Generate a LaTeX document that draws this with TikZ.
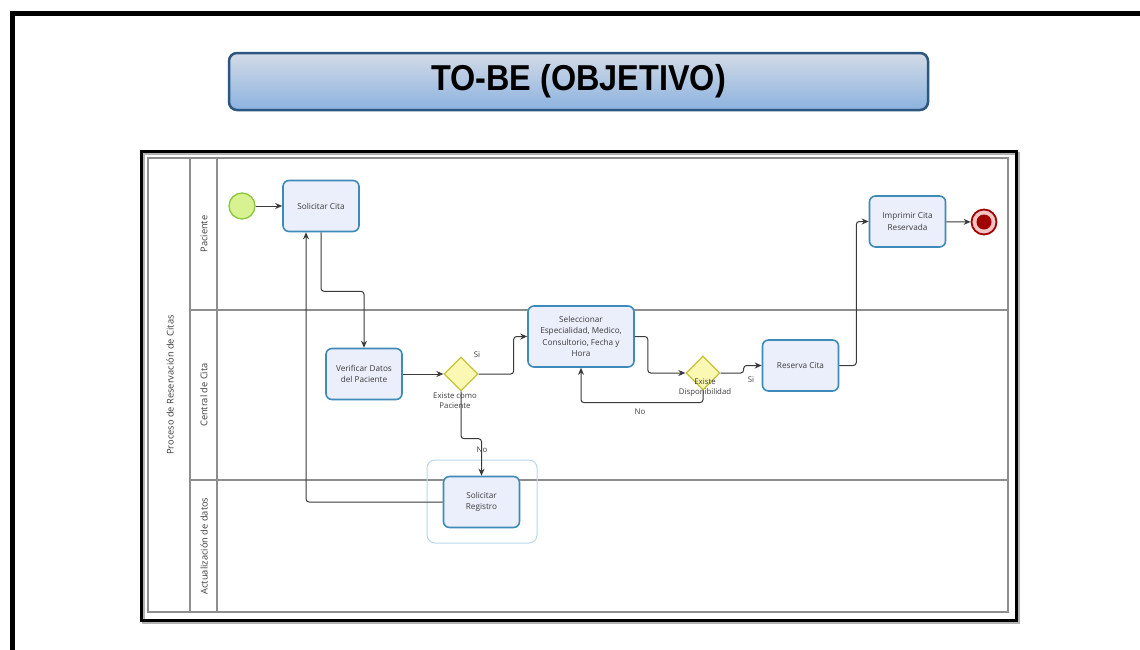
\documentclass[tikz,border=0pt]{standalone}
\usepackage{graphicx}
\usepackage{fontspec}
\setmainfont{Open Sans}
\newfontfamily\titlefont{Liberation Sans}
\usepackage{tikz}
\usetikzlibrary{arrows.meta,shapes.geometric,positioning}

\definecolor{taskfill}{HTML}{EBEEFB}
\definecolor{taskline}{HTML}{3E8AB8}
\definecolor{gwfill}{HTML}{FBF8B4}
\definecolor{gwline}{HTML}{C5C23A}
\definecolor{startfill}{HTML}{D8F291}
\definecolor{startline}{HTML}{8CC63E}
\definecolor{endred}{HTML}{A00000}
\definecolor{endpink}{HTML}{F2C4C4}
\definecolor{laneline}{HTML}{8E8E8E}
\definecolor{flowline}{HTML}{3A3A3A}
\definecolor{labeltext}{HTML}{3C3C3C}
\definecolor{titletop}{HTML}{D3DBE6}
\definecolor{titlebottom}{HTML}{8CB2DF}
\definecolor{titleline}{HTML}{2B5781}
\definecolor{halo}{HTML}{B8D8EA}

\tikzset{
  task/.style={draw=taskline, fill=taskfill, line width=1.6pt, rounded corners=6pt,
    minimum width=76pt, minimum height=51pt, align=center, text=labeltext,
    font=\fontsize{8.2}{11.5}\selectfont},
  gateway/.style={diamond, draw=gwline, fill=gwfill, line width=1.3pt,
    minimum size=34pt, inner sep=0pt},
  startevent/.style={circle, draw=startline, fill=startfill, line width=1.3pt,
    minimum size=26pt, inner sep=0pt},
  endevent/.style={circle, draw=endred, fill=endpink, line width=1.8pt,
    minimum size=25pt, inner sep=0pt,
    path picture={\fill[endred] (path picture bounding box.center) circle (7.5pt);}},
  flow/.style={draw=flowline, line width=1pt, rounded corners=3pt,
    -{Stealth[length=7pt,width=6pt]}},
  lane/.style={draw=laneline, line width=1.2pt},
  lanelabel/.style={rotate=90, text=labeltext, font=\fontsize{9.3}{11}\selectfont},
  flowlabel/.style={text=labeltext, align=center, inner sep=0pt,
    font=\fontsize{7.8}{10}\selectfont},
  titlebox/.style={draw=titleline, line width=2.5pt, rounded corners=8pt,
    top color=titletop, bottom color=titlebottom,
    minimum width=699pt, minimum height=57pt,
    font=\titlefont\bfseries\fontsize{36}{36}\selectfont}
}

\begin{document}
\begin{tikzpicture}[x=1pt, y=-1pt]
    \useasboundingbox (0,0) rectangle (1140,649);
    \fill[white] (0,0) rectangle (1140,649);
    \draw[line width=5pt] (12,13) rectangle (1200,720);

    \node[titlebox] (title) at (578.5,81.5) {\scalebox{0.9}[1]{TO-BE (OBJETIVO)}};

    \draw[black!30, line width=3pt] (143,153) rectangle (1018,622);
    \draw[line width=3pt] (141,151) rectangle (1016,620);
    \draw[lane] (148,158) rectangle (1008,612);
    \draw[lane] (190,158) -- (190,612);
    \draw[lane] (217,158) -- (217,612);
    \draw[lane] (190,310) -- (1008,310);
    \draw[lane] (190,480) -- (1008,480);

    \node[lanelabel] (pool) at (170,385) {Proceso de Reservación de Citas};
    \node[lanelabel] (paciente) at (204,234) {Paciente};
    \node[lanelabel] (central) at (204,395) {Central de Cita};
    \node[lanelabel] (actualizacion) at (204,546) {Actualización de datos};

    \draw[halo, line width=1pt, rounded corners=8pt] (427,460) rectangle (537,543);

    \node[startevent] (start) at (242,206) {};
    \node[task] (solcita) at (321,206) {Solicitar Cita};
    \node[task] (verif) at (364,374) {Verificar Datos\\del Paciente};
    \node[gateway] (gw1) at (461,374) {};
    \node[task, minimum width=106pt, minimum height=61pt] (selec) at (581,336.5)
        {Seleccionar\\Especialidad, Medico,\\Consultorio, Fecha y\\Hora};
    \node[gateway] (gw2) at (703,373) {};
    \node[task] (reserva) at (800.5,365.5) {Reserva Cita};
    \node[task] (imprimir) at (907.5,221.5) {Imprimir Cita\\Reservada};
    \node[endevent] (end) at (984,222) {};
    \node[task] (registro) at (481.5,502) {Solicitar\\Registro};

    \draw[flow] (start) -- (solcita);
    \draw[flow] (solcita.south) -- ++(0,59) -| (verif.north);
    \draw[flow] (verif.east) -- (gw1.west);
    \draw[flow] (gw1.east) -- ++(35,0) |- (selec.west);
    \draw[flow] (gw1.south) -- ++(0,47) -| (registro.north);
    \draw[flow] (registro.west) -| ([xshift=-15pt]solcita.south);
    \draw[flow] (selec.east) -- ++(13,0) |- (gw2.west);
    \draw[flow] (gw2.south) -- ++(0,12) -| (selec.south);
    \draw[flow] (gw2.east) -- ++(23,0) |- (reserva.west);
    \draw[flow] (reserva.east) -- ++(17,0) |- (imprimir.west);
    \draw[flow] (imprimir) -- (end);

    \node[flowlabel] (si1) at (477,355) {Si};
    \node[flowlabel] (existe1) at (455,401) {Existe como\\Paciente};
    \node[flowlabel] (no1) at (482,450) {No};
    \node[flowlabel] (existe2) at (705,388) {Existe\\Disponibilidad};
    \node[flowlabel] (no2) at (640,412) {No};
    \node[flowlabel] (si2) at (751,380) {Si};
\end{tikzpicture}
\end{document}
